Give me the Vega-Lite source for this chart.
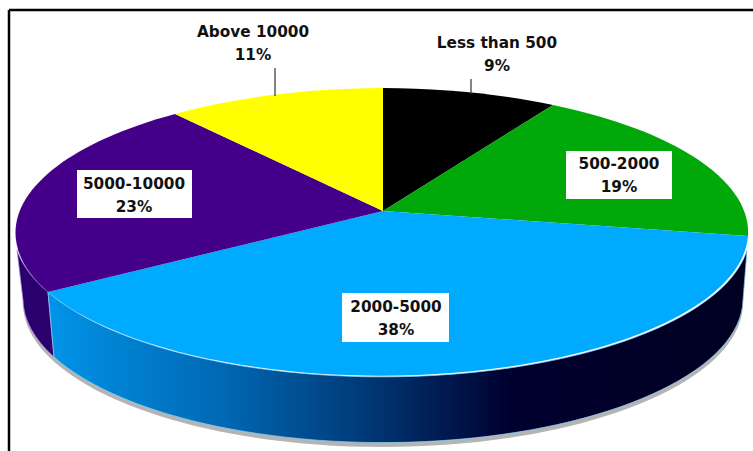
{
"$schema":"https://vega.github.io/schema/vega-lite/v6.json",
"width":753,"height":451,"padding":0,"autosize":{"type":"none"},
"background":"white",
"view":{"stroke":null},
"datasets":{"slices":[
{"category":"Less than 500","value":9},
{"category":"500-2000","value":19},
{"category":"2000-5000","value":38},
{"category":"5000-10000","value":23},
{"category":"Above 10000","value":11}]},
"data":{"name":"slices"},
"transform":[{"calculate":"datum.category+'\\n'+datum.value+'%'","as":"label"}],
"layer":[
{"data":{"values":[{"f":"left"}]},"transform":[],"mark":{"type":"rule","color":"#000","strokeWidth":2.5},
 "encoding":{"x":{"datum":9,"type":"quantitative","scale":{"domain":[0,753],"nice":false,"zero":false},"axis":null},
 "y":{"datum":10,"type":"quantitative","scale":{"domain":[451,0],"nice":false,"zero":false},"axis":null},"y2":{"datum":451}}},
{"data":{"values":[{"f":"top"}]},"transform":[],"mark":{"type":"rule","color":"#000","strokeWidth":2.5},
 "encoding":{"x":{"datum":9,"type":"quantitative","scale":{"domain":[0,753],"nice":false,"zero":false},"axis":null},"x2":{"datum":753},
 "y":{"datum":10,"type":"quantitative","scale":{"domain":[451,0],"nice":false,"zero":false},"axis":null}}},
{"transform":[{"filter":"datum.category==='2000-5000'"}],
 "mark":{"type":"point","filled":true,"opacity":1,"size":4,"fill":"#b4b4b4"},
 "encoding":{"x":{"datum":383,"type":"quantitative","scale":{"domain":[0,753],"nice":false,"zero":false},"axis":null},
 "y":{"datum":214,"type":"quantitative","scale":{"domain":[451,0],"nice":false,"zero":false},"axis":null},
 "shape":{"field":"category","type":"nominal","legend":null,"scale":{"domain":["2000-5000"],"range":["M 364 39 A 367 144 0 0 1 -335 81 L -360 89 A 360 144 0 1 0 360 89 Z"]}}}},
{"transform":[{"filter":"datum.category==='2000-5000'||datum.category==='5000-10000'"}],
 "mark":{"type":"point","filled":true,"opacity":1,"size":4,"fill":"#2a006e","stroke":"#b48ad8","strokeWidth":0.7},
 "encoding":{"x":{"datum":383,"type":"quantitative","scale":{"domain":[0,753],"nice":false,"zero":false},"axis":null},
 "y":{"datum":211,"type":"quantitative","scale":{"domain":[451,0],"nice":false,"zero":false},"axis":null},
 "shape":{"field":"category","type":"nominal","legend":null,"scale":{"domain":["2000-5000","5000-10000"],"range":["M 0 0 Z","M -366 39 A 367 144 0 0 0 -335 81 L -329 146 A 360 144 0 0 1 -360 89 Z"]}}}},
{"transform":[{"filter":"datum.category==='2000-5000'"}],
 "mark":{"type":"point","filled":true,"opacity":1,"size":4,"stroke":"#8fd6f2","strokeWidth":0.7,
 "fill":{"gradient":"linear","x1":0,"y1":0,"x2":1,"y2":0,"stops":[{"offset":0,"color":"#0094e8"},{"offset":0.25,"color":"#0068b4"},{"offset":0.45,"color":"#003a78"},{"offset":0.66,"color":"#00002f"},{"offset":1,"color":"#000022"}]}},
 "encoding":{"x":{"datum":383,"type":"quantitative","scale":{"domain":[0,753],"nice":false,"zero":false},"axis":null},
 "y":{"datum":211,"type":"quantitative","scale":{"domain":[451,0],"nice":false,"zero":false},"axis":null},
 "shape":{"field":"category","type":"nominal","legend":null,"scale":{"domain":["2000-5000"],"range":["M 364 39 A 367 144 0 0 1 -335 81 L -329 146 A 360 144 0 0 0 360 89 Z"]}}}},
{"mark":{"type":"point","filled":true,"opacity":1,"size":4},
 "encoding":{"x":{"datum":383,"type":"quantitative","scale":{"domain":[0,753],"nice":false,"zero":false},"axis":null},
 "y":{"datum":211,"type":"quantitative","scale":{"domain":[451,0],"nice":false,"zero":false},"axis":null},
 "color":{"field":"category","type":"nominal","legend":null,"scale":{"domain":["Less than 500","500-2000","2000-5000","5000-10000","Above 10000"],"range":["#000000","#00a80a","#00aaff","#45008a","#ffff00"]}},
 "shape":{"field":"category","type":"nominal","legend":null,"scale":{"domain":["Less than 500","500-2000","2000-5000","5000-10000","Above 10000"],"range":[
 "M 0 0 L 0 -123 A 367 144 0 0 1 170 -106 Z",
 "M 0 0 L 170 -106 A 367 144 0 0 1 365 25 Z",
 "M 0 0 L 365 25 A 367 144 0 0 1 -335 81 Z",
 "M 0 0 L -335 81 A 367 144 0 0 1 -208 -97 Z",
 "M 0 0 L -208 -97 A 367 144 0 0 1 0 -123 Z"]}}}},
{"transform":[{"filter":"datum.category==='500-2000'||datum.category==='2000-5000'||datum.category==='5000-10000'"}],
 "mark":{"type":"point","filled":true,"opacity":1,"size":4,"fill":"#ffffff"},
 "encoding":{"x":{"datum":383,"type":"quantitative","scale":{"domain":[0,753],"nice":false,"zero":false},"axis":null},
 "y":{"datum":211,"type":"quantitative","scale":{"domain":[451,0],"nice":false,"zero":false},"axis":null},
 "shape":{"field":"category","type":"nominal","legend":null,"scale":{"domain":["500-2000","2000-5000","5000-10000"],"range":[
 "M 183 -60 L 289 -60 L 289 -12 L 183 -12 Z",
 "M -41 82 L 66 82 L 66 131 L -41 131 Z",
 "M -306 -41 L -191 -41 L -191 7 L -306 7 Z"]}}}},
{"transform":[{"filter":"datum.category==='Above 10000'"}],"mark":{"type":"rule","color":"#333","strokeWidth":1.2},
 "encoding":{"x":{"datum":275,"type":"quantitative","scale":{"domain":[0,753],"nice":false,"zero":false},"axis":null},
 "y":{"datum":68,"type":"quantitative","scale":{"domain":[451,0],"nice":false,"zero":false},"axis":null},"y2":{"datum":96}}},
{"transform":[{"filter":"datum.category==='Less than 500'"}],"mark":{"type":"rule","color":"#333","strokeWidth":1.2},
 "encoding":{"x":{"datum":471,"type":"quantitative","scale":{"domain":[0,753],"nice":false,"zero":false},"axis":null},
 "y":{"datum":79,"type":"quantitative","scale":{"domain":[451,0],"nice":false,"zero":false},"axis":null},"y2":{"datum":94}}},
{"transform":[{"filter":"datum.category==='Above 10000'"}],"mark":{"type":"text","lineBreak":"\n","font":"DejaVu Sans","fontWeight":"bold","fontSize":15.3,"lineHeight":23,"color":"#111","baseline":"middle"},
 "encoding":{"x":{"datum":253,"type":"quantitative","scale":{"domain":[0,753],"nice":false,"zero":false},"axis":null},
 "y":{"datum":32,"type":"quantitative","scale":{"domain":[451,0],"nice":false,"zero":false},"axis":null},"text":{"field":"label"}}},
{"transform":[{"filter":"datum.category==='Less than 500'"}],"mark":{"type":"text","lineBreak":"\n","font":"DejaVu Sans","fontWeight":"bold","fontSize":15.3,"lineHeight":23,"color":"#111","baseline":"middle"},
 "encoding":{"x":{"datum":497,"type":"quantitative","scale":{"domain":[0,753],"nice":false,"zero":false},"axis":null},
 "y":{"datum":43,"type":"quantitative","scale":{"domain":[451,0],"nice":false,"zero":false},"axis":null},"text":{"field":"label"}}},
{"transform":[{"filter":"datum.category==='500-2000'"}],"mark":{"type":"text","lineBreak":"\n","font":"DejaVu Sans","fontWeight":"bold","fontSize":15.3,"lineHeight":23,"color":"#111","baseline":"middle"},
 "encoding":{"x":{"datum":619,"type":"quantitative","scale":{"domain":[0,753],"nice":false,"zero":false},"axis":null},
 "y":{"datum":164,"type":"quantitative","scale":{"domain":[451,0],"nice":false,"zero":false},"axis":null},"text":{"field":"label"}}},
{"transform":[{"filter":"datum.category==='2000-5000'"}],"mark":{"type":"text","lineBreak":"\n","font":"DejaVu Sans","fontWeight":"bold","fontSize":15.3,"lineHeight":23,"color":"#111","baseline":"middle"},
 "encoding":{"x":{"datum":396,"type":"quantitative","scale":{"domain":[0,753],"nice":false,"zero":false},"axis":null},
 "y":{"datum":307,"type":"quantitative","scale":{"domain":[451,0],"nice":false,"zero":false},"axis":null},"text":{"field":"label"}}},
{"transform":[{"filter":"datum.category==='5000-10000'"}],"mark":{"type":"text","lineBreak":"\n","font":"DejaVu Sans","fontWeight":"bold","fontSize":15.3,"lineHeight":23,"color":"#111","baseline":"middle"},
 "encoding":{"x":{"datum":134,"type":"quantitative","scale":{"domain":[0,753],"nice":false,"zero":false},"axis":null},
 "y":{"datum":184,"type":"quantitative","scale":{"domain":[451,0],"nice":false,"zero":false},"axis":null},"text":{"field":"label"}}}
],
"resolve":{"scale":{"shape":"independent","color":"independent"}}
}
